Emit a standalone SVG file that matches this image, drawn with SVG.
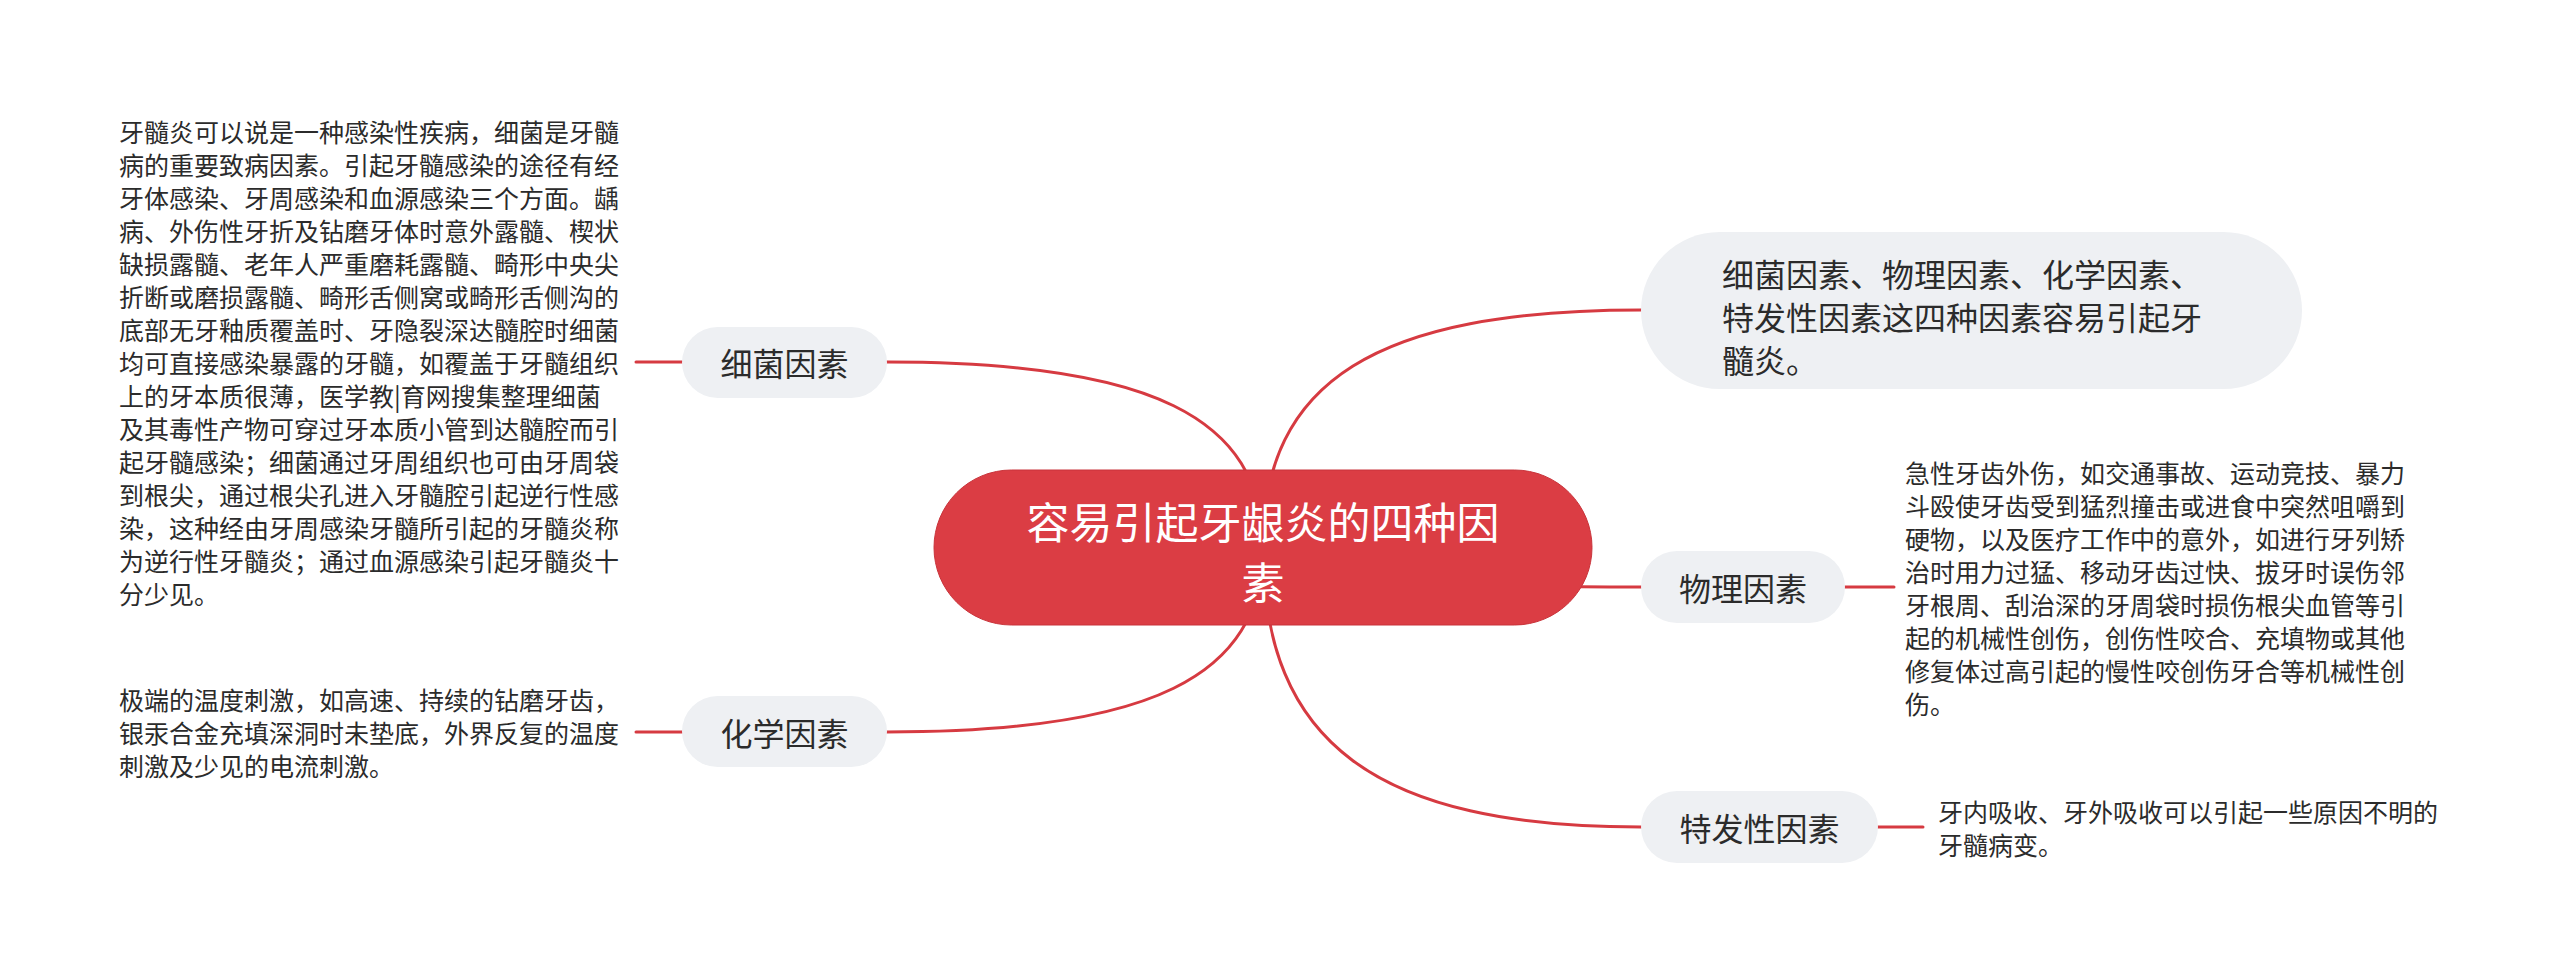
<svg xmlns="http://www.w3.org/2000/svg" width="2560" height="980" viewBox="0 0 2560 980">
<style>
.bg{fill:#ffffff}
.conn path,.conn line{fill:none;stroke:#d63a41;stroke-width:3;stroke-linecap:round}
.root rect{fill:#db3d44;stroke:#c9333a;stroke-width:1}
.root text{fill:#ffffff;font-family:"Noto Sans CJK SC","Noto Sans",sans-serif;font-size:43px;text-anchor:middle;dominant-baseline:central}
.pill rect{fill:#eef0f3}
.pill text{fill:#2b2b2b;font-family:"Noto Sans CJK SC","Noto Sans",sans-serif;font-size:32px;dominant-baseline:central}
.note text{fill:#2b2b2b;font-family:"Noto Sans CJK SC","Noto Sans",sans-serif;font-size:25px;dominant-baseline:central}
</style>
<rect class="bg" x="0" y="0" width="2560" height="980"/>
<g id="connectors" class="conn">
<path d="M1263 547 C1263 417 1150 362 887 362"/>
<path d="M1263 547 C1263 677 1150 732 887 732"/>
<path d="M1263 547 C1263 381 1376 310 1641 310"/>
<path d="M1263 547 C1263 575 1376 587 1641 587"/>
<path d="M1263 547 C1263 743 1376 827 1641 827"/>
<line x1="682" y1="362" x2="636" y2="362"/>
<line x1="682" y1="732" x2="636" y2="732"/>
<line x1="1845" y1="587" x2="1894" y2="587"/>
<line x1="1878" y1="827" x2="1923" y2="827"/>
</g>
<g id="root" class="root">
<rect x="934" y="470" width="658" height="155" rx="77.5"/>
<text x="1263" y="520">容易引起牙龈炎的四种因</text>
<text x="1263" y="580">素</text>
</g>
<g id="n-summary" class="pill">
<rect x="1641" y="232" width="661" height="157" rx="78.5"/>
<text x="1722" y="273">细菌因素、物理因素、化学因素、</text>
<text x="1722" y="316">特发性因素这四种因素容易引起牙</text>
<text x="1722" y="359">髓炎。</text>
</g>
<g id="n-bacteria" class="pill">
<rect x="682" y="327" width="205" height="71" rx="35.5"/>
<text x="784.5" y="362" text-anchor="middle">细菌因素</text>
</g>
<g id="n-chemical" class="pill">
<rect x="682" y="696" width="205" height="71" rx="35.5"/>
<text x="784.5" y="732" text-anchor="middle">化学因素</text>
</g>
<g id="n-physical" class="pill">
<rect x="1641" y="551" width="204" height="72" rx="36"/>
<text x="1743" y="587" text-anchor="middle">物理因素</text>
</g>
<g id="n-idiopathic" class="pill">
<rect x="1641" y="791" width="237" height="72" rx="36"/>
<text x="1759.5" y="827" text-anchor="middle">特发性因素</text>
</g>
<g id="t-bacteria" class="note">
<text x="119" y="131">牙髓炎可以说是一种感染性疾病，细菌是牙髓</text>
<text x="119" y="164">病的重要致病因素。引起牙髓感染的途径有经</text>
<text x="119" y="197">牙体感染、牙周感染和血源感染三个方面。龋</text>
<text x="119" y="230">病、外伤性牙折及钻磨牙体时意外露髓、楔状</text>
<text x="119" y="263">缺损露髓、老年人严重磨耗露髓、畸形中央尖</text>
<text x="119" y="296">折断或磨损露髓、畸形舌侧窝或畸形舌侧沟的</text>
<text x="119" y="329">底部无牙釉质覆盖时、牙隐裂深达髓腔时细菌</text>
<text x="119" y="362">均可直接感染暴露的牙髓，如覆盖于牙髓组织</text>
<text x="119" y="395">上的牙本质很薄，医学教|育网搜集整理细菌</text>
<text x="119" y="428">及其毒性产物可穿过牙本质小管到达髓腔而引</text>
<text x="119" y="461">起牙髓感染；细菌通过牙周组织也可由牙周袋</text>
<text x="119" y="494">到根尖，通过根尖孔进入牙髓腔引起逆行性感</text>
<text x="119" y="527">染，这种经由牙周感染牙髓所引起的牙髓炎称</text>
<text x="119" y="560">为逆行性牙髓炎；通过血源感染引起牙髓炎十</text>
<text x="119" y="593">分少见。</text>
</g>
<g id="t-chemical" class="note">
<text x="119" y="699">极端的温度刺激，如高速、持续的钻磨牙齿，</text>
<text x="119" y="732">银汞合金充填深洞时未垫底，外界反复的温度</text>
<text x="119" y="765">刺激及少见的电流刺激。</text>
</g>
<g id="t-physical" class="note">
<text x="1905" y="471.5">急性牙齿外伤，如交通事故、运动竞技、暴力</text>
<text x="1905" y="504.5">斗殴使牙齿受到猛烈撞击或进食中突然咀嚼到</text>
<text x="1905" y="537.5">硬物，以及医疗工作中的意外，如进行牙列矫</text>
<text x="1905" y="570.5">治时用力过猛、移动牙齿过快、拔牙时误伤邻</text>
<text x="1905" y="603.5">牙根周、刮治深的牙周袋时损伤根尖血管等引</text>
<text x="1905" y="636.5">起的机械性创伤，创伤性咬合、充填物或其他</text>
<text x="1905" y="669.5">修复体过高引起的慢性咬创伤牙合等机械性创</text>
<text x="1905" y="702.5">伤。</text>
</g>
<g id="t-idiopathic" class="note">
<text x="1938" y="810.5">牙内吸收、牙外吸收可以引起一些原因不明的</text>
<text x="1938" y="843.5">牙髓病变。</text>
</g>
</svg>
